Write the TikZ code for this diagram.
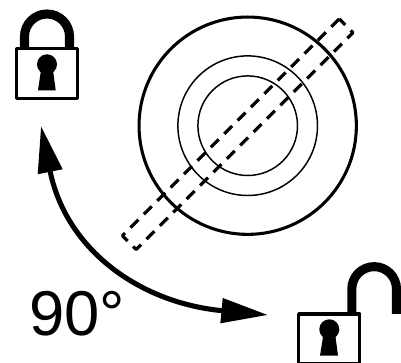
\documentclass[tikz,border=0pt]{standalone}
\usepackage{fontspec}
\setmainfont{Liberation Sans}
\usetikzlibrary{arrows.meta}

\begin{document}
\begin{tikzpicture}[x=0.75pt, y=-0.75pt, >={Triangle[length=35pt,width=18pt]}]
        \tikzset{
          ring/.style    ={draw, circle, inner sep=0pt, outer sep=0pt},
          slot/.style    ={draw, rectangle, rotate=45, line width=2.4pt, line join=round, dash pattern=on 8.4pt off 5.8pt,
                           minimum width=230pt, minimum height=14.6pt, inner sep=0pt, outer sep=0pt},
          lockbody/.style={draw, rectangle, line width=2.3pt, line join=round, inner sep=0pt, outer sep=0pt,
                           minimum width=46pt, minimum height=37.5pt},
          shackle/.style ={draw, line width=6.8pt}
        }
        \useasboundingbox (0,0) rectangle (401,363);
        %% --- Rings and slot ---
        \node[ring, line width=2.3pt, minimum size=163pt]  (outerring) at (247.7,125.7) {};
        \node[ring, line width=1.1pt, minimum size=104.7pt] (midring)   at (247.7,125.7) {};
        \node[ring, line width=1.1pt, minimum size=74.7pt]  (innerring) at (247.7,125.7) {};
        \node[slot] (slotbox) at (237.7,134.2) {};
        %% --- Closed lock ---
        \node[lockbody] (closedbody) at (47,73.2) {};
        \draw[shackle] (24.5,47.5) -- (24.5,36.5) arc[start angle=180, end angle=360, radius=22.5] -- (69.5,47.5);
        \fill (47,64.3) circle[radius=10];
        \fill (41,70) -- (38,90.3) -- (55.7,90.3) -- (53,70) -- cycle;
        %% --- Open lock ---
        \node[lockbody] (openbody) at (329.2,339) {};
        \draw[shackle] (351.8,313) -- (351.8,289) arc[start angle=180, end angle=360, radius=22.35] -- (396.5,314);
        \fill (329.3,329.3) circle[radius=10];
        \fill (323.3,335) -- (320,355.7) -- (338,355.7) -- (335.3,335) -- cycle;
        %% --- Turn arrow ---
        \coordinate (turnstart) at (41,126);
        \coordinate (turnend)   at (268,315);
        \draw[<->, line width=3.8pt] (turnstart) .. controls (66,250) and (140,303) .. (turnend);
        \node[font=\fontsize{47.5pt}{47.5pt}\selectfont, inner sep=0pt] (anglelabel) at (77,313.5) {90°};
    \end{tikzpicture}
\end{document}
